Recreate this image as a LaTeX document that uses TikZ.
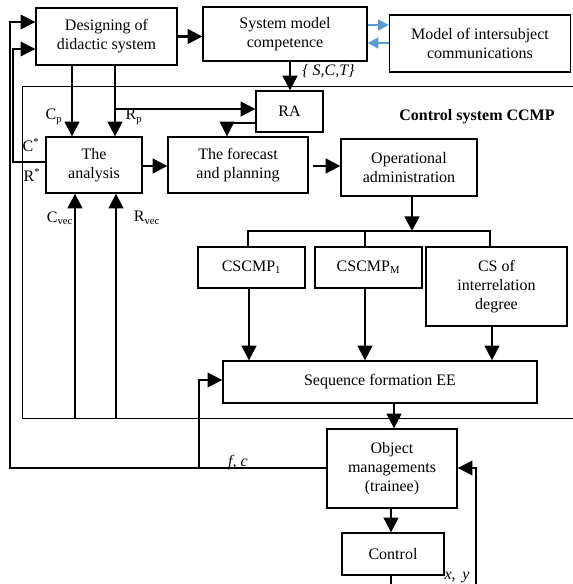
\documentclass[tikz,border=0pt]{standalone}
\usepackage{fontspec}
\setmainfont{Liberation Serif}
\usetikzlibrary{arrows.meta}
\definecolor{linkblue}{RGB}{91,155,213}
\begin{document}
\begin{tikzpicture}[x=0.75pt,y=-0.75pt,
  box/.style={draw, line width=1pt, align=center, inner sep=0pt,
    font=\fontsize{12}{14.25}\selectfont},
  sz/.style 2 args={minimum width=#1*0.75pt, minimum height=#2*0.75pt},
  flow/.style={line width=1.7pt, -{Triangle[length=11pt,width=11pt]}},
  wire/.style={line width=0.8pt},
  feed/.style={line width=0.8pt, -{Triangle[length=11pt,width=11pt]}},
  link/.style={linkblue, line width=1.8pt, -{Triangle[length=8pt,width=8pt]}},
  lbl/.style={inner sep=0pt, font=\fontsize{12}{14.25}\selectfont},
]
\useasboundingbox (0,0) rectangle (572,584);

% frame of the control system
\node[draw, wire, sz={552}{332}, anchor=north west] (ccmp) at (22,86) {};
\node[lbl, font=\fontsize{12}{14.25}\selectfont\bfseries] (title) at (477,117) {Control system CCMP};

% blocks
\node[box, sz={141}{57}] (design) at (106.5,36.5) {Designing of\\didactic system};
\node[box, sz={164}{54}] (sysmodel) at (285,34) {System model\\competence};
\node[box, sz={181}{57}] (inter) at (480,43.5) {Model of intersubject\\communications};
\node[box, sz={67}{41}] (ra) at (289.5,111.5) {RA};
\node[box, sz={96}{56}] (analysis) at (94,165) {The\\analysis};
\node[box, sz={140}{56}] (forecast) at (238,165) {The forecast\\and planning};
\node[box, sz={136}{57}] (oper) at (409,167.5) {Operational\\administration};
\node[box, sz={107}{41}] (cs1) at (251.5,267.5) {CSCMP\textsubscript{1}};
\node[box, sz={107}{41}] (csm) at (368.5,267.5) {CSCMP\textsubscript{M}};
\node[box, sz={141}{79}] (csi) at (496.5,286.5) {CS of\\interrelation\\degree};
\node[box, sz={314}{42}] (seq) at (380,382) {Sequence formation EE};
\node[box, sz={130}{79}] (obj) at (392,468.5) {Object\\managements\\(trainee)};
\node[box, sz={102}{42}] (ctrl) at (393,554) {Control};

% routing columns and rows
\coordinate (xcp) at (72,0);
\coordinate (xrp) at (115,0);
\coordinate (xcv) at (75,0);
\coordinate (xrv) at (116,0);
\coordinate (xsm) at (290,0);
\coordinate (xra) at (227,0);
\coordinate (xop) at (412,0);
\coordinate (xv1) at (248,0);
\coordinate (xv2) at (365,0);
\coordinate (xv3) at (490,0);
\coordinate (xd1) at (249,0);
\coordinate (xd2) at (365,0);
\coordinate (xd3) at (492,0);
\coordinate (xseq) at (394,0);
\coordinate (xobj) at (391,0);
\coordinate (xfb) at (199,0);
\coordinate (xout) at (10,0);
\coordinate (xin) at (13,0);
\coordinate (xloop) at (476,0);
\coordinate (ycs) at (0,25);
\coordinate (ysc) at (0,43);
\coordinate (yrp) at (0,109);
\coordinate (yra) at (0,123);
\coordinate (yh) at (0,166);
\coordinate (ydist) at (0,231);
\coordinate (yseqin) at (0,380);
\coordinate (yfc) at (0,468);
\coordinate (ytop) at (0,22);
\coordinate (yc) at (0,49);
\coordinate (ystar) at (0,162);
\coordinate (ybot) at (0,595);

% top row
\draw[flow] (design.east) -- (design.east -| sysmodel.west);
\draw[link] (sysmodel.east |- ycs) -- (inter.west |- ycs);
\draw[link] (inter.west |- ysc) -- (sysmodel.east |- ysc);
\draw[flow] (sysmodel.south -| xsm) -- (ra.north -| xsm);
\node[lbl, anchor=west] (lsct) at (302,71) {\itshape\{ S,C,T\}};

% design to analysis
\draw[flow] (design.south -| xcp) -- (analysis.north -| xcp);
\draw[flow] (design.south -| xrp) -- (analysis.north -| xrp);
\draw[flow] (xrp |- yrp) -- (ra.west |- yrp);
\node[lbl] (lcp) at (54,117) {C\textsubscript{p}};
\node[lbl] (lrp) at (134,117) {R\textsubscript{p}};

% RA and main chain
\draw[feed] (ra.west |- yra) -- (xra |- yra) -- (forecast.north -| xra);
\draw[flow] (analysis.east |- yh) -- (forecast.west |- yh);
\draw[flow] ([xshift=3pt]forecast.east |- yh) -- (oper.west |- yh);
\draw[flow] (oper.south -| xop) -- (xop |- ydist);

% distribution to the subsystems
\draw[wire] (cs1.north -| xv1) -- (xv1 |- ydist) -- (xv3 |- ydist) -- (csi.north -| xv3);
\draw[wire] (xv2 |- ydist) -- (csm.north -| xv2);
\draw[flow] (cs1.south -| xd1) -- (seq.north -| xd1);
\draw[flow] (csm.south -| xd2) -- (seq.north -| xd2);
\draw[flow] (csi.south -| xd3) -- (seq.north -| xd3);

% object and control
\draw[flow] (seq.south -| xseq) -- (obj.north -| xseq);
\draw[flow] (obj.south -| xobj) -- (ctrl.north -| xobj);
\draw[feed] (ctrl.south -| xobj) -- (xobj |- ybot) -- (xloop |- ybot) -- (xloop |- yfc) -- (obj.east |- yfc);
\node[lbl] (lxy) at (457,578) {\itshape x,\, y};

% feedback f, c
\draw[feed] (obj.west |- yfc) -- (xout |- yfc) -- (xout |- ytop) -- (design.west |- ytop);
\draw[feed] (xfb |- yfc) -- (xfb |- yseqin) -- (seq.west |- yseqin);
\node[lbl] (lfc) at (238,463) {\itshape f, c};

% feedback C*, R*
\draw[feed] (analysis.west |- ystar) -- (xin |- ystar) -- (xin |- yc) -- (design.west |- yc);
\node[lbl] (lcs) at (31,145) {C\textsuperscript{*}};
\node[lbl] (lrs) at (32,175) {R\textsuperscript{*}};

% vector inputs to the analysis
\draw[flow] (ccmp.south -| xcv) -- (analysis.south -| xcv);
\draw[flow] (ccmp.south -| xrv) -- (analysis.south -| xrv);
\node[lbl] (lcv) at (60,218) {C\textsubscript{vec}};
\node[lbl] (lrv) at (147,218) {R\textsubscript{vec}};
\end{tikzpicture}
\end{document}
